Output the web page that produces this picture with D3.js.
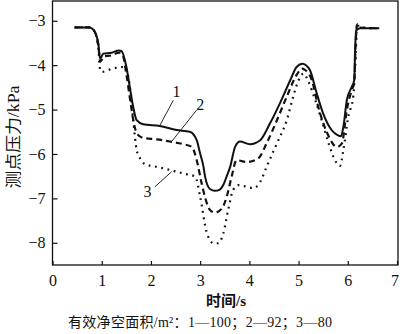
<!DOCTYPE html>
<html>
<head>
<meta charset="utf-8">
<script src="https://cdn.jsdelivr.net/npm/d3@7"></script>
<style>
html,body{margin:0;padding:0;background:#fff;}
svg{display:block;}
text{font-family:"Liberation Serif","Noto Sans CJK SC",serif;fill:#111;}
</style>
</head>
<body>
<svg id="chart" width="400" height="334"></svg>
<script>
// ---- data ----
const xTicks = [0, 1, 2, 3, 4, 5, 6, 7];
const yTicks = [-3, -4, -5, -6, -7, -8];

const t1 = [0.45,0.75,0.83,0.93,0.965,0.99,1.03,1.2,1.35,1.40,1.50,1.57,1.64,1.71,1.84,2.18,2.52,2.79,2.93,3.0,3.07,3.10,3.20,3.30,3.40,3.47,3.54,3.61,3.71,3.81,4.01,4.22,4.42,4.62,4.83,4.96,5.08,5.15,5.23,5.37,5.50,5.67,5.80,5.86,5.91,5.98,6.08,6.13,6.15,6.17,6.25,6.64];
const v1 = [-3.15,-3.15,-3.2,-3.5,-3.85,-3.82,-3.74,-3.72,-3.67,-3.68,-4.03,-4.49,-4.94,-5.24,-5.33,-5.37,-5.46,-5.50,-5.69,-5.99,-6.3,-6.51,-6.79,-6.83,-6.80,-6.70,-6.5,-6.29,-5.84,-5.72,-5.78,-5.69,-5.31,-4.86,-4.34,-4.04,-3.97,-4.0,-4.11,-4.64,-5.09,-5.46,-5.58,-5.60,-5.39,-4.79,-4.49,-4.34,-3.6,-3.22,-3.17,-3.17];

const t2 = [0.45,0.75,0.83,0.93,0.97,1.0,1.05,1.2,1.35,1.42,1.50,1.58,1.66,1.72,1.85,2.12,2.39,2.66,2.83,2.93,3.03,3.10,3.20,3.30,3.44,3.54,3.64,3.74,3.95,4.18,4.35,4.56,4.76,4.96,5.07,5.12,5.27,5.40,5.57,5.78,5.88,5.98,6.08,6.13,6.16,6.19,6.22,6.64];
const v2 = [-3.15,-3.15,-3.2,-3.55,-3.92,-3.88,-3.8,-3.78,-3.72,-3.75,-4.2,-4.8,-5.35,-5.55,-5.64,-5.67,-5.72,-5.78,-5.84,-6.14,-6.66,-6.98,-7.26,-7.32,-7.23,-6.96,-6.51,-6.14,-6.18,-6.10,-5.76,-5.24,-4.71,-4.22,-4.08,-4.10,-4.34,-4.94,-5.50,-5.84,-5.76,-5.01,-4.56,-4.4,-3.5,-3.08,-3.15,-3.17];

const t3 = [0.45,0.75,0.83,0.93,0.97,1.0,1.24,1.47,1.58,1.64,1.71,1.78,1.88,2.12,2.39,2.66,2.90,3.0,3.13,3.27,3.37,3.47,3.57,3.67,3.78,3.95,4.08,4.22,4.35,4.56,4.76,4.89,5.0,5.10,5.20,5.34,5.47,5.61,5.74,5.84,5.91,6.01,6.11,6.16,6.19,6.23,6.64];
const v3 = [-3.15,-3.15,-3.2,-3.6,-4.12,-4.15,-4.07,-4.04,-4.56,-5.24,-5.91,-6.10,-6.23,-6.29,-6.36,-6.44,-6.51,-6.96,-7.75,-8.01,-8.01,-7.79,-7.26,-6.81,-6.70,-6.74,-6.77,-6.63,-6.29,-5.76,-5.24,-4.71,-4.34,-4.19,-4.37,-4.79,-5.24,-5.76,-6.14,-6.27,-5.91,-5.16,-4.71,-3.8,-3.05,-3.15,-3.17];

const seriesLabels = ["1", "2", "3"];
// label anchor [t, v] and leader line ends [t1, v1, t2, v2]
const labelPos = [[2.52, -4.6], [3.0, -4.88], [1.93, -6.85]];
const leaders = [[2.455, -4.79, 2.185, -5.35], [2.93, -5.01, 2.42, -5.72], [2.08, -6.74, 2.42, -6.40]];

const xTitle = "时间/s";
const yTitle = "测点压力/kPa";
const note = "有效净空面积/m\u00B2：1—100；2—92；3—80";

// ---- drawing ----
const svg = d3.select("#chart");
const L = 52.5, R = 398, T = 1, B = 265;
const x = d3.scaleLinear().domain([0, 7.02]).range([L, R]);
const y = d3.scaleLinear().domain([-8.5, -2.555]).range([B, T]);

// frame
svg.append("rect").attr("x", L).attr("y", T).attr("width", R - L).attr("height", B - T)
  .attr("fill", "none").attr("stroke", "#111").attr("stroke-width", 1.3);

const fmt = d => d < 0 ? "\u2212" + Math.abs(d) : String(d);

const xAxis = d3.axisBottom(x).tickValues(xTicks).tickSizeInner(-4).tickSizeOuter(0).tickPadding(10).tickFormat(fmt);
const gx = svg.append("g").attr("transform", `translate(0,${B})`).call(xAxis);
gx.select(".domain").remove();
gx.selectAll("line").attr("stroke", "#111").attr("stroke-width", 1.2);
gx.selectAll("text").attr("font-size", 16).attr("font-family", "Liberation Serif").attr("fill", "#111")
  .attr("dx", d => d === 7 ? -2.5 : 0);

const yAxis = d3.axisLeft(y).tickValues(yTicks).tickSizeInner(-5).tickSizeOuter(0).tickPadding(7).tickFormat(fmt);
const gy = svg.append("g").attr("transform", `translate(${L},0)`).call(yAxis);
gy.select(".domain").remove();
gy.selectAll("line").attr("stroke", "#111").attr("stroke-width", 1.2);
gy.selectAll("text").attr("font-size", 16).attr("font-family", "Liberation Serif").attr("fill", "#111");

const line = d3.line().x(d => x(d[0])).y(d => y(d[1])).curve(d3.curveMonotoneX);
const series = [
  {t: t1, v: v1, dash: null, w: 2},
  {t: t2, v: v2, dash: "6,4", w: 2.2},
  {t: t3, v: v3, dash: "1.8,4.6", w: 2.2}
];
series.slice().reverse().forEach(s => {
  svg.append("path")
    .datum(s.t.map((tt, i) => [tt, s.v[i]]))
    .attr("d", line)
    .attr("fill", "none")
    .attr("stroke", "#111")
    .attr("stroke-width", s.w)
    .attr("stroke-dasharray", s.dash);
});

// labels and leaders
leaders.forEach(l => {
  svg.append("line").attr("x1", x(l[0])).attr("y1", y(l[1])).attr("x2", x(l[2])).attr("y2", y(l[3]))
    .attr("stroke", "#111").attr("stroke-width", 0.9);
});
labelPos.forEach((p, i) => {
  svg.append("text").attr("x", x(p[0])).attr("y", y(p[1]) + 5.5)
    .attr("text-anchor", "middle").attr("font-size", 16).text(seriesLabels[i]);
});

// titles
svg.append("text").attr("x", 226).attr("y", 306).attr("text-anchor", "middle")
  .attr("font-size", 15).attr("font-weight", "bold").text(xTitle);

svg.append("text").attr("transform", "translate(19,137) rotate(-90)").attr("text-anchor", "middle")
  .attr("font-size", 16).attr("textLength", 103).attr("lengthAdjust", "spacingAndGlyphs").text(yTitle);

svg.append("text").attr("x", 68).attr("y", 327).attr("font-size", 14)
  .attr("textLength", 264).attr("lengthAdjust", "spacing").text(note);
</script>
</body>
</html>
